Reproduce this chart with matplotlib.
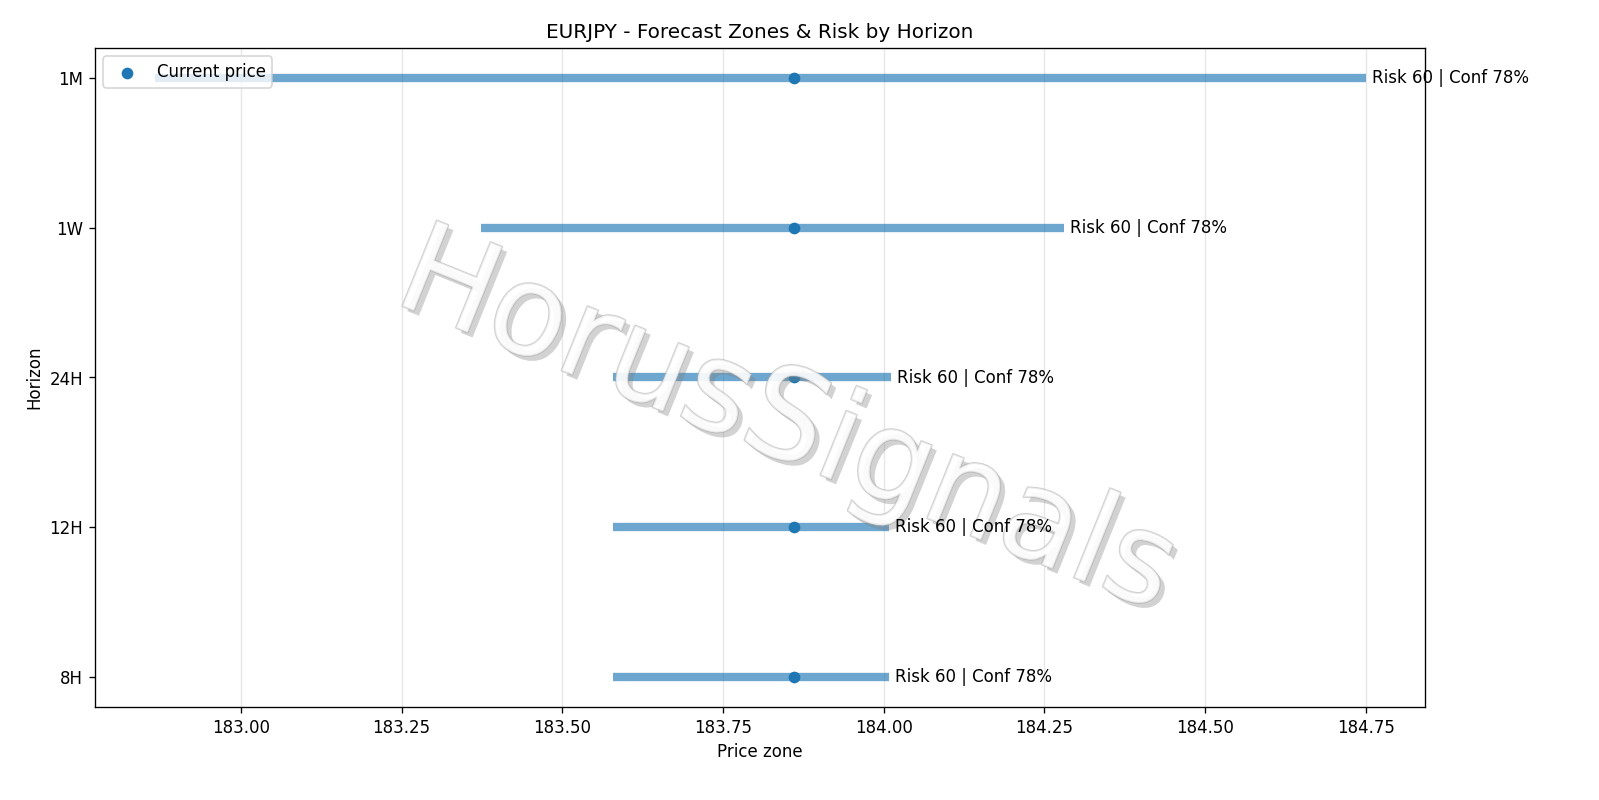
import matplotlib
matplotlib.use("Agg")
import matplotlib.pyplot as plt
import matplotlib.patheffects as pe

horizons = ["8H", "12H", "24H", "1W", "1M"]
low = [183.579, 183.579, 183.579, 183.373, 182.866]
high = [184.008, 184.008, 184.011, 184.28, 184.75]
current = 183.86
risk = [60, 60, 60, 60, 60]
conf = [78, 78, 78, 78, 78]

fig, ax = plt.subplots(figsize=(13.333, 6.667), dpi=120)
fig.subplots_adjust(left=95 / 1600, right=1425 / 1600, top=1 - 48 / 800, bottom=1 - 707 / 800)

ypos = range(len(horizons))
for y, lo, hi, r, c in zip(ypos, low, high, risk, conf):
    ax.hlines(y, lo, hi, linewidth=5, alpha=0.65, color="C0", zorder=2)
    ax.text(hi + 0.01, y, f"Risk {r} | Conf {c}%", va="center", fontsize=10, zorder=6)
ax.scatter([current] * len(horizons), list(ypos), color="C0", zorder=3, label="Current price")

# watermark
ax.text(0.52, 0.43, "HorusSignals", transform=ax.transAxes, fontsize=76,
        rotation=-22, ha="center", va="center", color="white", alpha=0.55, zorder=5,
        path_effects=[pe.withSimplePatchShadow(offset=(3, -3), shadow_rgbFace="grey", alpha=0.35),
                      pe.Stroke(linewidth=1.2, foreground="#aaaaaa"), pe.Normal()])

ax.set_yticks(list(ypos))
ax.set_yticklabels(horizons)
ax.set_xlim(182.773, 184.842)
ax.set_ylim(-0.2, 4.2)
ax.set_xlabel("Price zone")
ax.set_ylabel("Horizon")
ax.set_title("EURJPY - Forecast Zones & Risk by Horizon")
ax.grid(axis="x", alpha=0.3)
ax.legend(loc="upper left")

fig.savefig("out.png")
